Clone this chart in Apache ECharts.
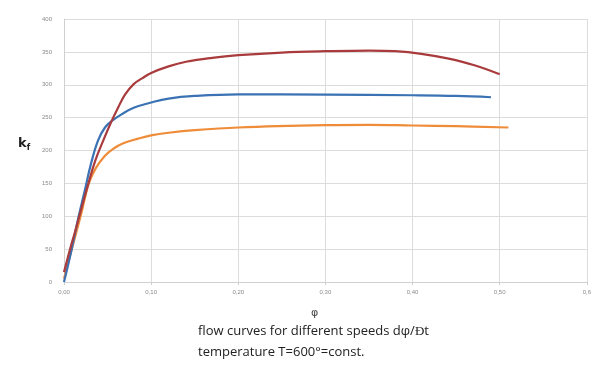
<!DOCTYPE html>
<html><head><meta charset="utf-8">
<script src="https://cdn.jsdelivr.net/npm/echarts@6/dist/echarts.min.js"></script>
<style>html,body{margin:0;padding:0;background:#fff}#c{width:594px;height:370px}</style>
</head><body><div id="c"></div>
<script>
var xTicks = [0, 0.1, 0.2, 0.3, 0.4, 0.5, 0.6];
var yTicks = [0, 50, 100, 150, 200, 250, 300, 350, 400];
var redCurve = [[0,15],[0.008,55],[0.0126,76],[0.02,112],[0.028,150],[0.036,185],[0.045,215],[0.053,240],[0.062,265],[0.07,285],[0.08,301],[0.09,310],[0.1,318],[0.12,328],[0.14,335],[0.17,341],[0.2,345],[0.25,349],[0.3,351],[0.35,352],[0.38,351],[0.41,347],[0.44,340],[0.47,330],[0.5,316]];
var blueCurve = [[0,0],[0.008,45],[0.016,95],[0.024,140],[0.031,180],[0.039,215],[0.047,235],[0.056,246],[0.066,255],[0.08,265],[0.1,273],[0.12,279],[0.15,283],[0.2,285.5],[0.3,285],[0.4,284],[0.45,283],[0.49,281]];
var orangeCurve = [[0,5],[0.01,55],[0.02,105],[0.028,148],[0.036,172],[0.047,192],[0.057,203],[0.068,211],[0.085,218],[0.1,223],[0.12,227],[0.15,231],[0.2,235],[0.3,238.5],[0.35,239],[0.4,238],[0.45,237],[0.51,235]];

function fmt(v){ return v.toFixed(2).replace('.', ','); }
var chart = echarts.init(document.getElementById('c'));
var lab = {fontSize: 6, color: '#8a8a8a', fontFamily: 'Liberation Sans'};
chart.setOption({
  animation: false,
  grid: {left: 64, right: 5, top: 19, bottom: 88},
  xAxis: {type: 'value', min: xTicks[0], max: xTicks[xTicks.length-1], interval: 0.1,
    axisLine: {show: true, lineStyle: {color: '#d0d0d0'}},
    axisTick: {show: true, length: 3, lineStyle: {color: '#d0d0d0'}},
    splitLine: {show: true, lineStyle: {color: '#dcdcdc', width: 1}},
    axisLabel: Object.assign({margin: 7, formatter: function(v){ return Math.abs(v - 0.6) < 1e-9 ? '0,6' : fmt(v); }}, lab)},
  yAxis: {type: 'value', min: yTicks[0], max: yTicks[yTicks.length-1], interval: 50,
    axisLine: {show: true, lineStyle: {color: '#d0d0d0'}},
    axisTick: {show: false},
    splitLine: {show: true, lineStyle: {color: '#dcdcdc', width: 1}},
    axisLabel: Object.assign({margin: 12}, lab)},
  series: [
    {type: 'line', data: redCurve, smooth: 0.4, showSymbol: false, lineStyle: {color: '#a93b3d', width: 2.2}, z: 3},
    {type: 'line', data: blueCurve, smooth: 0.4, showSymbol: false, lineStyle: {color: '#3a72b3', width: 2.2}, z: 2},
    {type: 'line', data: orangeCurve, smooth: 0.4, showSymbol: false, lineStyle: {color: '#ef8c3a', width: 2.2}, z: 1}
  ],
  graphic: [
    {type: 'text', left: 18, top: 137, style: {text: '{k|k}{f|f}', rich: {k: {fontSize: 13, fontWeight: 'bold', fill: '#222', fontFamily: 'DejaVu Sans'}, f: {fontSize: 8, fontWeight: 'bold', fill: '#222', fontFamily: 'DejaVu Sans', verticalAlign: 'bottom', padding: [8,0,0,0]}}}},
    {type: 'text', left: 311, top: 308, style: {text: 'φ', fontSize: 11, fill: '#444', fontFamily: 'DejaVu Sans'}},
    {type: 'text', left: 198, top: 325, style: {text: 'flow curves for different speeds dφ/Ɖt', fontSize: 13, fill: '#222', fontFamily: 'Open Sans'}},
    {type: 'text', left: 198, top: 346, style: {text: 'temperature T=600°=const.', fontSize: 13, fill: '#222', fontFamily: 'Open Sans'}}
  ]
});
</script></body></html>
